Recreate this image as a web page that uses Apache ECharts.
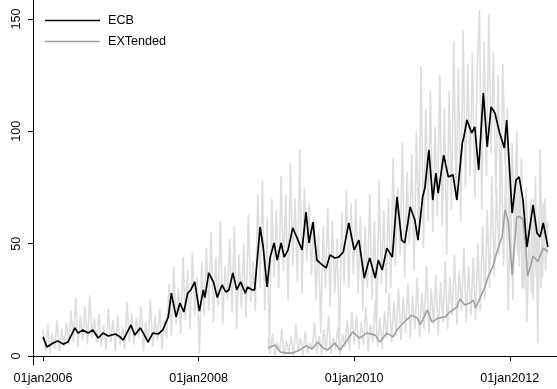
<!DOCTYPE html>
<html><head><meta charset="utf-8">
<script src="https://cdn.jsdelivr.net/npm/echarts@6/dist/echarts.min.js"></script>
<style>html,body{margin:0;padding:0;background:#fff}#c{width:557px;height:389px}</style>
</head><body><div id="c"></div>
<script>
// Smoothed ECB series (decimal year, value)
const ecbYears = [2006.00,2006.05,2006.13,2006.19,2006.26,2006.32,2006.41,2006.45,2006.51,2006.58,2006.64,2006.71,2006.77,2006.84,2006.93,2006.99,
2007.03,2007.13,2007.18,2007.25,2007.29,2007.35,2007.41,2007.48,2007.54,2007.61,2007.65,2007.71,2007.76,2007.81,2007.86,2007.90,2007.95,
2008.01,2008.06,2008.08,2008.13,2008.19,2008.24,2008.30,2008.35,2008.39,2008.44,2008.49,2008.54,2008.60,2008.63,2008.69,2008.72,2008.79,2008.83,2008.88,2008.92,2008.97,
2009.01,2009.06,2009.10,2009.15,2009.21,2009.26,2009.33,2009.38,2009.42,2009.47,2009.52,2009.59,2009.64,2009.69,2009.75,2009.80,2009.86,2009.93,
2010.00,2010.06,2010.13,2010.18,2010.20,2010.27,2010.31,2010.36,2010.42,2010.49,2010.55,2010.61,2010.65,2010.72,2010.78,2010.82,2010.88,2010.91,2010.96,
2011.01,2011.05,2011.08,2011.15,2011.21,2011.27,2011.32,2011.39,2011.41,2011.45,2011.51,2011.55,2011.60,2011.66,2011.71,2011.76,2011.81,2011.87,2011.93,2011.96,
2012.03,2012.08,2012.12,2012.17,2012.22,2012.30,2012.35,2012.39,2012.43,2012.48,2012.49];
const ecbValues = [8.5,4,5.8,6.7,5.3,6.2,12.5,10.2,11.6,10.2,11.6,8,10.2,8.9,9.8,8.5,
7.1,13.8,9.3,12.5,10.2,6.2,10.2,9.8,11.6,17.4,28,17.4,23.6,19.6,28,29.4,33,
20,29.4,26,37,33,26,31.6,28.5,29.4,37,29.4,33,28,30.7,29.4,29.4,57.4,48.5,30.7,44,50.3,
42.7,50.3,44,47.2,57,53,47.2,64,50.3,59.6,42.7,40.5,39.2,45,43.6,44,46.3,59.2,
47.2,51.6,34.7,41.4,43.6,34.7,42.7,38.3,48,44,70.8,51.6,50.3,66.3,60.5,51.6,70.8,75,91.7,
69.4,81.4,72.5,89.4,79.7,80.6,69.4,94.8,97.5,105,99.2,102,82.8,117,93,110.8,108,99.2,92.6,105,
63.6,78.3,79.7,69.4,48.5,67.2,54.7,53,59.2,50.3,48.5];

// Smoothed EXTended series
const extYears = [2008.89,2008.98,2009.05,2009.14,2009.21,2009.30,2009.38,2009.46,2009.53,2009.60,2009.66,2009.75,2009.82,2009.91,2009.98,
2010.07,2010.16,2010.27,2010.33,2010.42,2010.50,2010.55,2010.63,2010.74,2010.81,2010.85,2010.94,2011.00,2011.08,2011.17,2011.23,2011.27,2011.32,2011.36,2011.42,2011.49,2011.53,2011.56,2011.62,2011.68,2011.72,2011.78,2011.84,2011.90,2011.94,2011.98,
2012.03,2012.09,2012.13,2012.17,2012.20,2012.23,2012.30,2012.36,2012.43,2012.49];
const extValues = [3.6,4.9,1.8,1.3,1.3,2.7,4.5,3.1,6.2,3.6,2.7,5.8,2.7,7.1,10.7,
8,10.2,9.3,6.2,10.2,8.5,11.6,14.7,18.2,16.9,14,20.5,15.1,16.9,17.4,19.6,20.5,21.8,25.5,22.7,23.6,24.9,21.4,26,30.7,35.2,39.6,47,53,65,60,
36,61.9,62,60.5,51.6,35.5,44.5,42,48,46.5];

// Raw (unsmoothed) observations, one every rawStep years
const rawStep = 0.03;
const ecbRawStart = 2006.00;
const ecbRaw = [12,2,14,1,10,3,16,2,12,4,15,
5,20,6,26,4,18,7,22,5,27,8,17,6,
19,4,14,3,21,6,16,2,18,5,
13,3,24,6,19,5,17,8,22,2,15,6,25,4,18,7,21,3,16,8,
32,9,40,14,30,10,44,16,38,12,46,18,35,
1,
42,18,48,20,55,15,44,22,60,14,40,25,52,19,58,12,45,21,50,17,63,24,42,20,
72,30,78,20,62,1,70,35,
65,30,80,38,72,25,86,40,70,33,92,28,75,42,68,36,
62,25,55,10,58,30,66,22,60,28,52,5,64,32,74,30,68,
36,70,28,62,20,58,30,72,25,60,15,78,32,65,28,70,30,
88,40,75,45,95,35,82,50,90,38,100,55,129,48,110,60,118,
55,102,62,125,58,110,45,118,65,140,70,128,60,145,75,130,80,
135,70,125,154,65,140,80,152,90,135,72,125,68,130,85,110,
45,95,55,100,40,88,30,75,45,70,25,80,6,92,35,70,45];
const extRawStart = 2008.89;
const extRaw = [8,1,10,0,6,2,12,0,7,1,9,0,14,2,8,0,11,1,6,3,15,1,9,0,12,2,18,1,8,3,13,0,10,4,16,2,20,5,
18,3,15,5,22,2,14,6,25,4,17,3,20,8,28,6,24,9,30,7,26,10,32,8,27,12,
35,8,28,12,40,10,30,14,36,9,33,15,42,12,35,18,45,14,38,20,48,15,40,18,44,16,
50,20,58,25,65,30,80,35,75,45,95,40,85,20,70,
25,80,45,75,30,65,15,55,28,70,35,62,30,68,38,60];

const xTickYears = [2006, 2008, 2010, 2012];
const xTickLabels = ['01jan2006', '01jan2008', '01jan2010', '01jan2012'];
const yTicks = [0, 50, 100, 150];

const pair = (xs, ys) => xs.map((x, i) => [x, ys[i]]);
const rawPairs = (start, vals) => vals.map((v, i) => [+(start + i * rawStep).toFixed(3), v]);

const FONT = '"Liberation Sans", Arial, sans-serif';
const chart = echarts.init(document.getElementById('c'), null, {renderer: 'canvas'});
chart.setOption({
  animation: false,
  backgroundColor: '#fff',
  textStyle: {fontFamily: FONT},
  grid: {left: 33, right: 0, top: 0, bottom: 24, containLabel: false},
  legend: {
    data: ['ECB', 'EXTended'],
    orient: 'vertical',
    left: 45, top: 14, padding: 0,
    icon: 'rect', itemWidth: 55, itemHeight: 1.6, itemGap: 8,
    textStyle: {fontFamily: FONT, fontSize: 12.6, color: '#000', padding: [0, 0, 0, 3]}
  },
  xAxis: {
    type: 'value', min: 2005.871, max: 2012.607,
    splitLine: {show: false},
    axisLine: {lineStyle: {color: '#000', width: 1}},
    axisTick: {length: 5, lineStyle: {color: '#000'}, customValues: xTickYears},
    axisLabel: {
      customValues: xTickYears, margin: 7, color: '#000', fontSize: 12.6, fontFamily: FONT,
      formatter: v => xTickLabels[xTickYears.indexOf(Math.round(v))] || ''
    }
  },
  yAxis: {
    type: 'value', min: -4.0, max: 158.4,
    splitLine: {show: false},
    axisLine: {show: true, lineStyle: {color: '#000', width: 1}},
    axisTick: {show: true, length: 5, lineStyle: {color: '#000'}, customValues: yTicks},
    axisLabel: {customValues: yTicks, rotate: 90, margin: 10, color: '#000', fontSize: 12.6, fontFamily: FONT}
  },
  series: [
    {name: 'ECB raw', type: 'line', data: rawPairs(ecbRawStart, ecbRaw), showSymbol: false, silent: true,
     lineStyle: {color: '#dedede', width: 1.6}, z: 1},
    {name: 'EXT raw', type: 'line', data: rawPairs(extRawStart, extRaw), showSymbol: false, silent: true,
     lineStyle: {color: '#dedede', width: 1.6}, z: 1},
    {name: 'EXTended', type: 'line', data: pair(extYears, extValues), showSymbol: false,
     itemStyle: {color: '#a0a0a0'}, lineStyle: {color: '#a0a0a0', width: 1.6}, z: 3},
    {name: 'ECB', type: 'line', data: pair(ecbYears, ecbValues), showSymbol: false,
     itemStyle: {color: '#000'}, lineStyle: {color: '#000', width: 1.7}, z: 4}
  ]
});
</script>
</body></html>
